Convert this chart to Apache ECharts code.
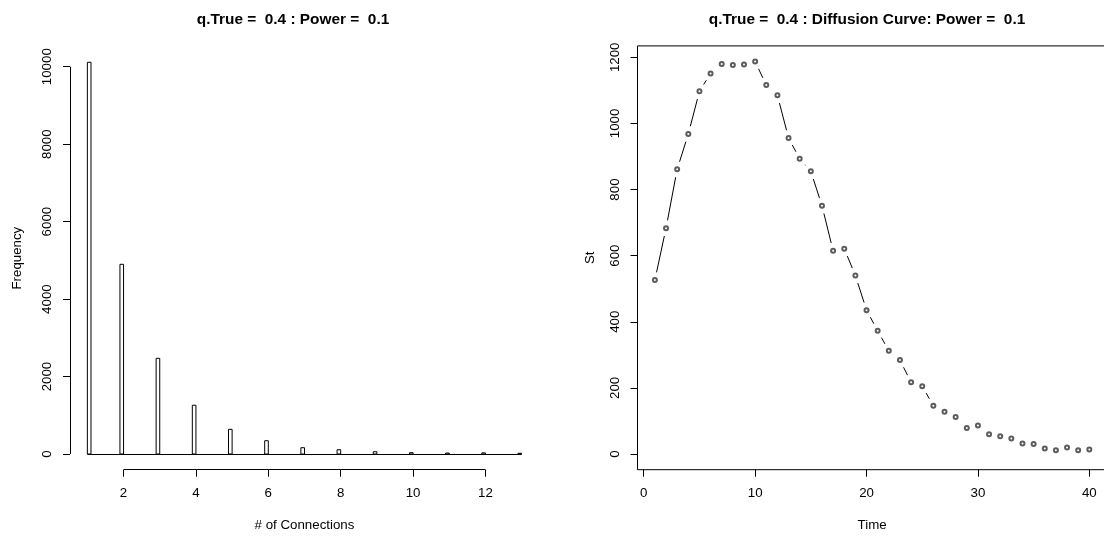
<!DOCTYPE html>
<html><head><meta charset="utf-8">
<script src="https://cdn.jsdelivr.net/npm/echarts@6/dist/echarts.min.js"></script>
<style>html,body{margin:0;padding:0;background:#fff}#c{width:1104px;height:539px}</style>
</head><body><div id="c"></div>
<script>
// ---- Left: histogram of connections ----
const connections = [1,2,3,4,5,6,7,8,9,10,11,12,13];
const frequency   = [10114,4898,2471,1260,638,344,163,111,60,35,25,30,20];
const histTicksX  = [2,4,6,8,10,12];
const histTicksY  = [0,2000,4000,6000,8000,10000];
const binWidth    = 0.1;

// ---- Right: diffusion curve ----
const time = [1,2,3,4,5,6,7,8,9,10,11,12,13,14,15,16,17,18,19,20,
              21,22,23,24,25,26,27,28,29,30,31,32,33,34,35,36,37,38,39,40];
const st   = [526,683,861,968,1097,1151,1180,1177,1178,1187,1116,1085,956,893,855,751,615,621,540,435,
              373,312,284,217,205,146,128,112,79,86,60,54,47,32,30,17,11,20,11,14];
const curveTicksX = [0,10,20,30,40];
const curveTicksY = [0,200,400,600,800,1000,1200];

const FONT = 'Liberation Sans, Arial, sans-serif';
const BLACK = '#000';
const LABEL_SIZE = 13.3;
const TITLE_SIZE = 15.4;

// R-style 4% padded ranges
function padRange(lo, hi){ const p=(hi-lo)*0.04; return [lo-p, hi+p]; }
const hxr = padRange(connections[0], connections[connections.length-1]);
const hyr = padRange(0, Math.max(...frequency));
const cxr = padRange(time[0], time[time.length-1]);
const cyr = padRange(0, Math.max(...st));

const bins = connections.map((k,i)=>{
  const lo = (i===0) ? k : k - binWidth;
  return [lo, lo + binWidth, frequency[i]];
});
const segs = [];
for (let i=0;i<time.length-1;i++) segs.push([time[i], st[i], time[i+1], st[i+1]]);

const chart = echarts.init(document.getElementById('c'), null, {renderer:'canvas'});
const axisLabelStyle = {color:BLACK, fontFamily:FONT, fontSize:LABEL_SIZE, formatter:(v)=>String(v)};
const nameStyle = {color:BLACK, fontFamily:FONT, fontSize:LABEL_SIZE};
const mlStyle = {symbol:['none','none'], silent:true, label:{show:false},
  lineStyle:{color:BLACK, width:1, type:'solid'}, emphasis:{disabled:true}, animation:false};

function xAx(grid, range, ticks, name){
  return {type:'value', gridIndex:grid, min:range[0], max:range[1],
    name:name, nameLocation:'middle', nameGap:49, nameTextStyle:nameStyle,
    axisLine:{show:false, onZero:false}, splitLine:{show:false},
    axisTick:{show:true, length:7, customValues:ticks, lineStyle:{color:BLACK}},
    axisLabel:Object.assign({customValues:ticks, margin:17}, axisLabelStyle)};
}
function yAx(grid, range, ticks, name, gap){
  return {type:'value', gridIndex:grid, min:range[0], max:range[1],
    name:name, nameLocation:'middle', nameGap:gap, nameRotate:90, nameTextStyle:nameStyle,
    axisLine:{show:false, onZero:false}, splitLine:{show:false},
    axisTick:{show:true, length:7, customValues:ticks, lineStyle:{color:BLACK}},
    axisLabel:Object.assign({customValues:ticks, rotate:90, margin:16}, axisLabelStyle)};
}

chart.setOption({
  animation:false,
  backgroundColor:'#fff',
  title:[
    {text:'q.True =  0.4 : Power =  0.1', left:288, top:7, textAlign:'center',
     textStyle:{fontFamily:FONT, fontSize:TITLE_SIZE, fontWeight:'bold', color:BLACK}},
    {text:'q.True =  0.4 : Diffusion Curve: Power =  0.1', left:862, top:7, textAlign:'center',
     textStyle:{fontFamily:FONT, fontSize:TITLE_SIZE, fontWeight:'bold', color:BLACK}}
  ],
  grid:[
    {left:70, width:469, top:46.6, bottom:69.3, show:false, outerBoundsMode:'none', containLabel:false},
    {left:637.5, width:469.2, top:45.9, bottom:69.3, show:true, borderColor:BLACK, borderWidth:1,
     backgroundColor:'transparent', outerBoundsMode:'none', containLabel:false}
  ],
  xAxis:[ xAx(0, hxr, histTicksX, '# of Connections'), xAx(1, cxr, curveTicksX, 'Time') ],
  yAxis:[ yAx(0, hyr, histTicksY, 'Frequency', 46), yAx(1, cyr, curveTicksY, 'St', 41) ],
  series:[
    {type:'custom', name:'hist', xAxisIndex:0, yAxisIndex:0, silent:true, clip:false,
     encode:{x:[0,1], y:2},
     data:bins,
     renderItem:function(params, api){
       const p0 = api.coord([api.value(0), 0]);
       const p1 = api.coord([api.value(1), api.value(2)]);
       return {type:'rect', shape:{x:p0[0], y:p1[1], width:p1[0]-p0[0], height:p0[1]-p1[1]},
               style:{fill:'#fff', stroke:BLACK, lineWidth:1}};
     },
     markLine:Object.assign({}, mlStyle, {data:[
       [{coord:[connections[0],0]},{coord:[connections[connections.length-1],0]}],
       [{coord:[histTicksX[0],hyr[0]]},{coord:[histTicksX[histTicksX.length-1],hyr[0]]}],
       [{coord:[hxr[0],histTicksY[0]]},{coord:[hxr[0],histTicksY[histTicksY.length-1]]}]
     ]})
    },
    {type:'custom', name:'segments', xAxisIndex:1, yAxisIndex:1, silent:true,
     encode:{x:[0,2], y:[1,3]},
     data:segs,
     renderItem:function(params, api){
       const p0 = api.coord([api.value(0), api.value(1)]);
       const p1 = api.coord([api.value(2), api.value(3)]);
       const dx = p1[0]-p0[0], dy = p1[1]-p0[1];
       const L = Math.sqrt(dx*dx+dy*dy);
       const gap = 8;
       if (L <= 2*gap) return null;
       const ux = dx/L, uy = dy/L;
       return {type:'line', shape:{x1:p0[0]+ux*gap, y1:p0[1]+uy*gap, x2:p1[0]-ux*gap, y2:p1[1]-uy*gap},
               style:{stroke:BLACK, lineWidth:1}};
     }
    },
    {type:'scatter', name:'St', xAxisIndex:1, yAxisIndex:1, silent:true,
     symbol:'emptyCircle', symbolSize:4,
     itemStyle:{color:'#333', borderColor:'#333', borderWidth:0.7},
     data:time.map((t,i)=>[t, st[i]])
    }
  ]
});
</script>
</body></html>
